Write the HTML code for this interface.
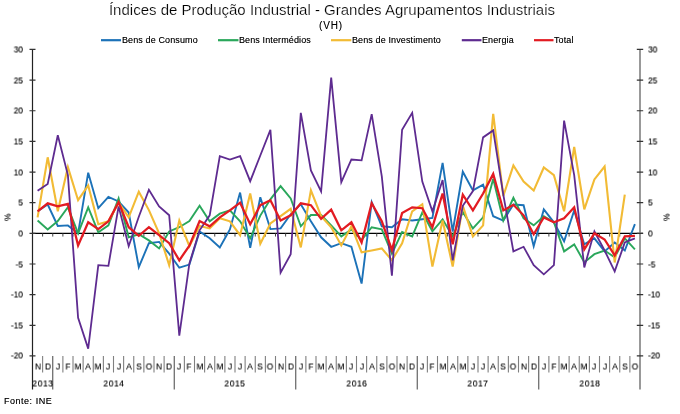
<!DOCTYPE html>
<html><head><meta charset="utf-8"><title>IPI</title>
<style>
html,body{margin:0;padding:0;background:#fff;}
body{width:680px;height:414px;position:relative;overflow:hidden;font-family:"Liberation Sans",sans-serif;color:#000;}
.t{position:absolute;white-space:nowrap;line-height:1;will-change:transform;}
.c{transform:translateX(-50%);}
.cs{transform:translateX(-50%) scale(0.93,1.1);}
.r{transform:translateX(-100%);}
.s9{font-size:9px;text-shadow:0 0 0 rgba(0,0,0,0.5);}
.s95{font-size:9px;text-shadow:0 0 0 rgba(0,0,0,0.5);}
</style></head><body>
<svg width="680" height="414" viewBox="0 0 680 414" style="position:absolute;left:0;top:0">
<line x1="32.5" y1="233.35" x2="643.0" y2="233.35" stroke="#000" stroke-width="1.1"/>
<path d="M42.62,233.35 v3.2 M52.75,233.35 v3.2 M62.88,233.35 v3.2 M73.00,233.35 v3.2 M83.12,233.35 v3.2 M93.25,233.35 v3.2 M103.38,233.35 v3.2 M113.50,233.35 v3.2 M123.62,233.35 v3.2 M133.75,233.35 v3.2 M143.88,233.35 v3.2 M154.00,233.35 v3.2 M164.12,233.35 v3.2 M174.25,233.35 v3.2 M184.38,233.35 v3.2 M194.50,233.35 v3.2 M204.62,233.35 v3.2 M214.75,233.35 v3.2 M224.88,233.35 v3.2 M235.00,233.35 v3.2 M245.12,233.35 v3.2 M255.25,233.35 v3.2 M265.38,233.35 v3.2 M275.50,233.35 v3.2 M285.62,233.35 v3.2 M295.75,233.35 v3.2 M305.88,233.35 v3.2 M316.00,233.35 v3.2 M326.12,233.35 v3.2 M336.25,233.35 v3.2 M346.38,233.35 v3.2 M356.50,233.35 v3.2 M366.62,233.35 v3.2 M376.75,233.35 v3.2 M386.88,233.35 v3.2 M397.00,233.35 v3.2 M407.12,233.35 v3.2 M417.25,233.35 v3.2 M427.38,233.35 v3.2 M437.50,233.35 v3.2 M447.62,233.35 v3.2 M457.75,233.35 v3.2 M467.88,233.35 v3.2 M478.00,233.35 v3.2 M488.12,233.35 v3.2 M498.25,233.35 v3.2 M508.38,233.35 v3.2 M518.50,233.35 v3.2 M528.62,233.35 v3.2 M538.75,233.35 v3.2 M548.88,233.35 v3.2 M559.00,233.35 v3.2 M569.12,233.35 v3.2 M579.25,233.35 v3.2 M589.38,233.35 v3.2 M599.50,233.35 v3.2 M609.62,233.35 v3.2 M619.75,233.35 v3.2 M629.88,233.35 v3.2 " stroke="#444" stroke-width="1" fill="none"/>
<polyline fill="none" stroke="#1c72b8" stroke-width="1.9" stroke-linejoin="miter" stroke-miterlimit="4" points="37.6,211.3 47.7,204.5 57.8,226.0 67.9,225.4 78.1,233.3 88.2,172.7 98.3,208.2 108.4,196.9 118.6,201.5 128.7,212.5 138.8,267.1 148.9,243.2 159.1,241.9 169.2,253.6 179.3,267.7 189.4,264.6 199.6,231.5 209.7,238.3 219.8,247.4 229.9,229.4 240.1,192.6 250.2,247.8 260.3,197.2 270.4,229.1 280.6,228.4 290.7,214.3 300.8,204.2 310.9,221.3 321.1,237.3 331.2,246.8 341.3,243.2 351.4,246.8 361.6,283.6 371.7,202.1 381.8,226.3 391.9,227.2 402.1,219.3 412.2,220.5 422.3,219.3 432.4,218.0 442.6,162.9 452.7,231.5 462.8,171.7 472.9,190.4 483.1,184.6 493.2,216.2 503.3,220.5 513.4,204.5 523.6,205.2 533.7,246.2 543.8,209.4 553.9,222.3 564.1,241.3 574.2,210.4 584.3,244.4 594.4,238.3 604.6,251.4 614.7,242.5 624.8,250.5 634.9,224.2"/>
<polyline fill="none" stroke="#2aa75b" stroke-width="1.9" stroke-linejoin="miter" stroke-miterlimit="4" points="37.6,220.5 47.7,229.4 57.8,221.1 67.9,207.3 78.1,233.3 88.2,207.3 98.3,232.4 108.4,225.4 118.6,198.4 128.7,237.3 138.8,234.3 148.9,240.4 159.1,248.4 169.2,231.5 179.3,227.2 189.4,221.1 199.6,205.8 209.7,221.3 219.8,213.7 229.9,210.4 240.1,221.3 250.2,238.3 260.3,215.6 270.4,199.3 280.6,186.1 290.7,198.4 300.8,226.3 310.9,215.0 321.1,215.0 331.2,225.4 341.3,236.4 351.4,229.4 361.6,240.1 371.7,227.2 381.8,229.4 391.9,253.6 402.1,232.1 412.2,236.4 422.3,212.5 432.4,231.3 442.6,219.3 452.7,236.4 462.8,211.9 472.9,228.4 483.1,217.4 493.2,178.8 503.3,220.5 513.4,197.8 523.6,218.3 533.7,225.4 543.8,216.2 553.9,222.3 564.1,251.4 574.2,244.4 584.3,262.2 594.4,254.2 604.6,250.5 614.7,257.3 624.8,238.3 634.9,249.3"/>
<polyline fill="none" stroke="#f2bb35" stroke-width="2.1" stroke-linejoin="miter" stroke-miterlimit="4" points="37.6,217.4 47.7,157.3 57.8,211.3 67.9,167.1 78.1,200.2 88.2,185.5 98.3,224.2 108.4,221.3 118.6,202.7 128.7,217.4 138.8,191.7 148.9,210.1 159.1,233.3 169.2,265.2 179.3,220.5 189.4,246.2 199.6,226.0 209.7,228.4 219.8,218.3 229.9,221.3 240.1,235.2 250.2,193.5 260.3,243.8 270.4,223.5 280.6,216.2 290.7,208.8 300.8,247.4 310.9,190.4 321.1,216.2 331.2,227.2 341.3,245.4 351.4,226.3 361.6,252.4 371.7,250.5 381.8,248.4 391.9,260.3 402.1,243.2 412.2,211.3 422.3,204.2 432.4,266.5 442.6,220.5 452.7,266.5 462.8,205.8 472.9,236.4 483.1,225.4 493.2,113.8 503.3,196.0 513.4,165.5 523.6,181.6 533.7,190.6 543.8,167.5 553.9,175.1 564.1,211.3 574.2,147.0 584.3,209.4 594.4,179.4 604.6,166.5 614.7,262.5 624.8,194.7"/>
<polyline fill="none" stroke="#5e2b90" stroke-width="1.8" stroke-linejoin="miter" stroke-miterlimit="4" points="37.6,190.7 47.7,183.9 57.8,135.3 67.9,175.1 78.1,317.9 88.2,348.6 98.3,265.2 108.4,265.8 118.6,206.4 128.7,246.2 138.8,216.8 148.9,189.8 159.1,206.4 169.2,215.3 179.3,335.7 189.4,263.4 199.6,230.3 209.7,215.3 219.8,156.1 229.9,159.5 240.1,156.1 250.2,181.2 260.3,155.5 270.4,129.8 280.6,272.6 290.7,254.2 300.8,112.9 310.9,170.5 321.1,191.4 331.2,77.6 341.3,182.2 351.4,159.5 361.6,160.4 371.7,114.1 381.8,176.3 391.9,275.6 402.1,129.8 412.2,112.9 422.3,181.6 432.4,211.3 442.6,180.0 452.7,260.3 462.8,205.8 472.9,191.1 483.1,137.4 493.2,130.4 503.3,194.7 513.4,251.4 523.6,246.8 533.7,265.2 543.8,274.4 553.9,265.2 564.1,120.6 574.2,175.1 584.3,267.4 594.4,231.3 604.6,250.5 614.7,271.4 624.8,242.5 634.9,238.3"/>
<polyline fill="none" stroke="#e21b22" stroke-width="2.25" stroke-linejoin="miter" stroke-miterlimit="4" points="37.6,211.3 47.7,203.3 57.8,206.4 67.9,203.9 78.1,245.4 88.2,222.3 98.3,229.1 108.4,221.3 118.6,202.1 128.7,227.2 138.8,235.8 148.9,227.2 159.1,235.2 169.2,243.2 179.3,260.3 189.4,245.6 199.6,221.1 209.7,226.3 219.8,217.4 229.9,210.4 240.1,202.7 250.2,224.2 260.3,205.2 270.4,200.2 280.6,220.5 290.7,215.3 300.8,203.3 310.9,205.2 321.1,218.9 331.2,209.7 341.3,230.3 351.4,222.3 361.6,242.5 371.7,203.3 381.8,221.3 391.9,249.9 402.1,213.1 412.2,207.3 422.3,208.2 432.4,227.2 442.6,193.5 452.7,244.4 462.8,194.7 472.9,210.4 483.1,193.5 493.2,173.9 503.3,210.4 513.4,204.8 523.6,215.3 533.7,234.3 543.8,217.4 553.9,222.3 564.1,218.3 574.2,207.3 584.3,249.3 594.4,233.3 604.6,239.5 614.7,255.4 624.8,236.4 634.9,235.8"/>
<line x1="32.5" y1="49.44999999999999" x2="32.5" y2="389.5" stroke="#222" stroke-width="1.2"/>
<line x1="640.0" y1="49.44999999999999" x2="640.0" y2="389.5" stroke="#8e8e8e" stroke-width="1.8"/>
<path d="M29.5,355.95 h6.0 M636.8,355.95 h6.4 M29.5,325.30 h6.0 M636.8,325.30 h6.4 M29.5,294.65 h6.0 M636.8,294.65 h6.4 M29.5,264.00 h6.0 M636.8,264.00 h6.4 M29.5,233.35 h6.0 M636.8,233.35 h6.4 M29.5,202.70 h6.0 M636.8,202.70 h6.4 M29.5,172.05 h6.0 M636.8,172.05 h6.4 M29.5,141.40 h6.0 M636.8,141.40 h6.4 M29.5,110.75 h6.0 M636.8,110.75 h6.4 M29.5,80.10 h6.0 M636.8,80.10 h6.4 M29.5,49.45 h6.0 M636.8,49.45 h6.4 " stroke="#333" stroke-width="1.2" fill="none"/>
<path d="M42.62,355.95 V372.5 M62.88,355.95 V372.5 M73.00,355.95 V372.5 M83.12,355.95 V372.5 M93.25,355.95 V372.5 M103.38,355.95 V372.5 M113.50,355.95 V372.5 M123.62,355.95 V372.5 M133.75,355.95 V372.5 M143.88,355.95 V372.5 M154.00,355.95 V372.5 M164.12,355.95 V372.5 M184.38,355.95 V372.5 M194.50,355.95 V372.5 M204.62,355.95 V372.5 M214.75,355.95 V372.5 M224.88,355.95 V372.5 M235.00,355.95 V372.5 M245.12,355.95 V372.5 M255.25,355.95 V372.5 M265.38,355.95 V372.5 M275.50,355.95 V372.5 M285.62,355.95 V372.5 M305.88,355.95 V372.5 M316.00,355.95 V372.5 M326.12,355.95 V372.5 M336.25,355.95 V372.5 M346.38,355.95 V372.5 M356.50,355.95 V372.5 M366.62,355.95 V372.5 M376.75,355.95 V372.5 M386.88,355.95 V372.5 M397.00,355.95 V372.5 M407.12,355.95 V372.5 M427.38,355.95 V372.5 M437.50,355.95 V372.5 M447.62,355.95 V372.5 M457.75,355.95 V372.5 M467.88,355.95 V372.5 M478.00,355.95 V372.5 M488.12,355.95 V372.5 M498.25,355.95 V372.5 M508.38,355.95 V372.5 M518.50,355.95 V372.5 M528.62,355.95 V372.5 M548.88,355.95 V372.5 M559.00,355.95 V372.5 M569.12,355.95 V372.5 M579.25,355.95 V372.5 M589.38,355.95 V372.5 M599.50,355.95 V372.5 M609.62,355.95 V372.5 M619.75,355.95 V372.5 M629.88,355.95 V372.5 " stroke="#808080" stroke-width="1.1" fill="none"/>
<path d="M52.75,355.95 V389.5 M174.25,355.95 V389.5 M295.75,355.95 V389.5 M417.25,355.95 V389.5 M538.75,355.95 V389.5 " stroke="#555" stroke-width="1.1" fill="none"/>
<line x1="101" y1="40.2" x2="121" y2="40.2" stroke="#1c72b8" stroke-width="2.2"/>
<line x1="218" y1="40.2" x2="238.5" y2="40.2" stroke="#2aa75b" stroke-width="2.2"/>
<line x1="331" y1="40.2" x2="351.3" y2="40.2" stroke="#f2bb35" stroke-width="2.2"/>
<line x1="461.8" y1="40.2" x2="481.5" y2="40.2" stroke="#5e2b90" stroke-width="2.2"/>
<line x1="534" y1="40.2" x2="553.5" y2="40.2" stroke="#e21b22" stroke-width="2.2"/>
</svg>
<div class="t c" style="left:331.5px;top:1.5px;font-size:15px;-webkit-text-stroke:0.2px #fff;">Índices de Produção Industrial - Grandes Agrupamentos Industriais</div>
<div class="t c" style="left:331.4px;top:20.7px;font-size:10px;letter-spacing:0.9px;text-shadow:0 0 0 rgba(0,0,0,0.4);">(VH)</div>
<div class="t s9" style="left:122px;top:35.5px;letter-spacing:0.12px;">Bens de Consumo</div>
<div class="t s9" style="left:239px;top:35.5px;letter-spacing:0.12px;">Bens Intermédios</div>
<div class="t s9" style="left:352px;top:35.5px;letter-spacing:0.12px;">Bens de Investimento</div>
<div class="t s9" style="left:482px;top:35.5px;letter-spacing:0.12px;">Energia</div>
<div class="t s9" style="left:554px;top:35.5px;letter-spacing:0.12px;">Total</div>
<div class="t s95" style="right:656.8px;top:351px;transform:scale(0.93,1.1);transform-origin:100% 50%;">-20</div>
<div class="t s95" style="left:647.6px;top:351px;transform:scale(0.93,1.1);transform-origin:0 50%;">-20</div>
<div class="t s95" style="right:656.8px;top:321px;transform:scale(0.93,1.1);transform-origin:100% 50%;">-15</div>
<div class="t s95" style="left:647.6px;top:321px;transform:scale(0.93,1.1);transform-origin:0 50%;">-15</div>
<div class="t s95" style="right:656.8px;top:290px;transform:scale(0.93,1.1);transform-origin:100% 50%;">-10</div>
<div class="t s95" style="left:647.6px;top:290px;transform:scale(0.93,1.1);transform-origin:0 50%;">-10</div>
<div class="t s95" style="right:656.8px;top:260px;transform:scale(0.93,1.1);transform-origin:100% 50%;">-5</div>
<div class="t s95" style="left:647.6px;top:260px;transform:scale(0.93,1.1);transform-origin:0 50%;">-5</div>
<div class="t s95" style="right:656.8px;top:229px;transform:scale(0.93,1.1);transform-origin:100% 50%;">0</div>
<div class="t s95" style="left:647.6px;top:229px;transform:scale(0.93,1.1);transform-origin:0 50%;">0</div>
<div class="t s95" style="right:656.8px;top:198px;transform:scale(0.93,1.1);transform-origin:100% 50%;">5</div>
<div class="t s95" style="left:647.6px;top:198px;transform:scale(0.93,1.1);transform-origin:0 50%;">5</div>
<div class="t s95" style="right:656.8px;top:168px;transform:scale(0.93,1.1);transform-origin:100% 50%;">10</div>
<div class="t s95" style="left:647.6px;top:168px;transform:scale(0.93,1.1);transform-origin:0 50%;">10</div>
<div class="t s95" style="right:656.8px;top:137px;transform:scale(0.93,1.1);transform-origin:100% 50%;">15</div>
<div class="t s95" style="left:647.6px;top:137px;transform:scale(0.93,1.1);transform-origin:0 50%;">15</div>
<div class="t s95" style="right:656.8px;top:106px;transform:scale(0.93,1.1);transform-origin:100% 50%;">20</div>
<div class="t s95" style="left:647.6px;top:106px;transform:scale(0.93,1.1);transform-origin:0 50%;">20</div>
<div class="t s95" style="right:656.8px;top:76px;transform:scale(0.93,1.1);transform-origin:100% 50%;">25</div>
<div class="t s95" style="left:647.6px;top:76px;transform:scale(0.93,1.1);transform-origin:0 50%;">25</div>
<div class="t s95" style="right:656.8px;top:45px;transform:scale(0.93,1.1);transform-origin:100% 50%;">30</div>
<div class="t s95" style="left:647.6px;top:45px;transform:scale(0.93,1.1);transform-origin:0 50%;">30</div>
<div class="t" style="left:3.6px;top:212.5px;font-size:8.5px;transform:rotate(-90deg);transform-origin:50% 50%;text-shadow:0 0 0 rgba(0,0,0,0.5);">%</div>
<div class="t" style="left:663.2px;top:212.5px;font-size:8.5px;transform:rotate(-90deg);transform-origin:50% 50%;text-shadow:0 0 0 rgba(0,0,0,0.5);">%</div>
<div class="t s9 cs" style="left:37.6px;top:362px;">N</div>
<div class="t s9 cs" style="left:47.7px;top:362px;">D</div>
<div class="t s9 cs" style="left:57.8px;top:362px;">J</div>
<div class="t s9 cs" style="left:67.9px;top:362px;">F</div>
<div class="t s9 cs" style="left:78.1px;top:362px;">M</div>
<div class="t s9 cs" style="left:88.2px;top:362px;">A</div>
<div class="t s9 cs" style="left:98.3px;top:362px;">M</div>
<div class="t s9 cs" style="left:108.4px;top:362px;">J</div>
<div class="t s9 cs" style="left:118.6px;top:362px;">J</div>
<div class="t s9 cs" style="left:128.7px;top:362px;">A</div>
<div class="t s9 cs" style="left:138.8px;top:362px;">S</div>
<div class="t s9 cs" style="left:148.9px;top:362px;">O</div>
<div class="t s9 cs" style="left:159.1px;top:362px;">N</div>
<div class="t s9 cs" style="left:169.2px;top:362px;">D</div>
<div class="t s9 cs" style="left:179.3px;top:362px;">J</div>
<div class="t s9 cs" style="left:189.4px;top:362px;">F</div>
<div class="t s9 cs" style="left:199.6px;top:362px;">M</div>
<div class="t s9 cs" style="left:209.7px;top:362px;">A</div>
<div class="t s9 cs" style="left:219.8px;top:362px;">M</div>
<div class="t s9 cs" style="left:229.9px;top:362px;">J</div>
<div class="t s9 cs" style="left:240.1px;top:362px;">J</div>
<div class="t s9 cs" style="left:250.2px;top:362px;">A</div>
<div class="t s9 cs" style="left:260.3px;top:362px;">S</div>
<div class="t s9 cs" style="left:270.4px;top:362px;">O</div>
<div class="t s9 cs" style="left:280.6px;top:362px;">N</div>
<div class="t s9 cs" style="left:290.7px;top:362px;">D</div>
<div class="t s9 cs" style="left:300.8px;top:362px;">J</div>
<div class="t s9 cs" style="left:310.9px;top:362px;">F</div>
<div class="t s9 cs" style="left:321.1px;top:362px;">M</div>
<div class="t s9 cs" style="left:331.2px;top:362px;">A</div>
<div class="t s9 cs" style="left:341.3px;top:362px;">M</div>
<div class="t s9 cs" style="left:351.4px;top:362px;">J</div>
<div class="t s9 cs" style="left:361.6px;top:362px;">J</div>
<div class="t s9 cs" style="left:371.7px;top:362px;">A</div>
<div class="t s9 cs" style="left:381.8px;top:362px;">S</div>
<div class="t s9 cs" style="left:391.9px;top:362px;">O</div>
<div class="t s9 cs" style="left:402.1px;top:362px;">N</div>
<div class="t s9 cs" style="left:412.2px;top:362px;">D</div>
<div class="t s9 cs" style="left:422.3px;top:362px;">J</div>
<div class="t s9 cs" style="left:432.4px;top:362px;">F</div>
<div class="t s9 cs" style="left:442.6px;top:362px;">M</div>
<div class="t s9 cs" style="left:452.7px;top:362px;">A</div>
<div class="t s9 cs" style="left:462.8px;top:362px;">M</div>
<div class="t s9 cs" style="left:472.9px;top:362px;">J</div>
<div class="t s9 cs" style="left:483.1px;top:362px;">J</div>
<div class="t s9 cs" style="left:493.2px;top:362px;">A</div>
<div class="t s9 cs" style="left:503.3px;top:362px;">S</div>
<div class="t s9 cs" style="left:513.4px;top:362px;">O</div>
<div class="t s9 cs" style="left:523.6px;top:362px;">N</div>
<div class="t s9 cs" style="left:533.7px;top:362px;">D</div>
<div class="t s9 cs" style="left:543.8px;top:362px;">J</div>
<div class="t s9 cs" style="left:553.9px;top:362px;">F</div>
<div class="t s9 cs" style="left:564.1px;top:362px;">M</div>
<div class="t s9 cs" style="left:574.2px;top:362px;">A</div>
<div class="t s9 cs" style="left:584.3px;top:362px;">M</div>
<div class="t s9 cs" style="left:594.4px;top:362px;">J</div>
<div class="t s9 cs" style="left:604.6px;top:362px;">J</div>
<div class="t s9 cs" style="left:614.7px;top:362px;">A</div>
<div class="t s9 cs" style="left:624.8px;top:362px;">S</div>
<div class="t s9 cs" style="left:634.9px;top:362px;">O</div>
<div class="t s9 cs" style="left:42.9px;top:379.1px;letter-spacing:0.7px;">2013</div>
<div class="t s9 cs" style="left:113.8px;top:379.1px;letter-spacing:0.7px;">2014</div>
<div class="t s9 cs" style="left:235.3px;top:379.1px;letter-spacing:0.7px;">2015</div>
<div class="t s9 cs" style="left:356.8px;top:379.1px;letter-spacing:0.7px;">2016</div>
<div class="t s9 cs" style="left:478.3px;top:379.1px;letter-spacing:0.7px;">2017</div>
<div class="t s9 cs" style="left:589.7px;top:379.1px;letter-spacing:0.7px;">2018</div>
<div class="t s9" style="left:4.4px;top:396.8px;letter-spacing:0.52px;">Fonte: INE</div>
</body></html>
